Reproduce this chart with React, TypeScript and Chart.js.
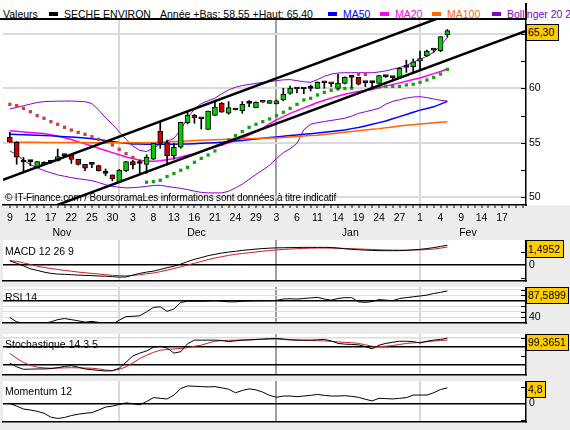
import React, { useEffect, useRef } from "react";
import { Chart, registerables } from "chart.js";

Chart.register(...registerables);

const FONT = "'Liberation Sans', Arial, Helvetica, sans-serif";
const FS = 10.5;

// ---------- axis / calendar data ----------
const dayLabels = ["9", "12", "17", "22", "25", "30", "3", "8", "13", "16", "21", "24", "29", "3", "6", "11", "14", "19", "24", "27", "1", "4", "9", "14", "17"];
const monthLabels = ["Nov", "Dec", "Jan", "Fev"];
const monthLabelAt = [7.6, 27.3, 49.8, 67.0];
const monthStartAt = [16, 39, 60];
const yearStartAt = 39;
const X_MIN = -1;
const X_MAX = 75.5;

// ---------- header data ----------
const stockName = "SECHE ENVIRON";
const yearLow = "58,55";
const yearHigh = "65,40";
const lastClose = "65,30";
const legendNames = ["MA50", "MA20", "MA100", "Bollinger 20 2"];
const legendColors = ["#0000ff", "#ff00ff", "#ff6600", "#8800cc"];

// ---------- price data (one entry per trading day) ----------
const opens = [55.5, 55.05, 53.24, 53.27, 52.72, 53.2, 53.21, 53.33, 53.82, 53.88,
  53.48, 53.02, 53.02, 52.9, 52.2, 52.05, 51.38, 52.44, 53.27, 53.1,
  53.02, 53.49, 56.08, 55.01, 53.82, 54.59, 56.85, 57.52, 57.21, 56.23,
  57.52, 58.62, 57.71, 58.01, 57.95, 58.62, 58.23, 58.72, 58.62, 58.6,
  58.93, 59.54, 59.94, 59.94, 60.0, 60.0, 60.5, 60.5, 60.0, 60.46,
  61.0, 61.0, 60.52, 60.52, 60.46, 61.07, 60.98, 61.0, 61.92, 61.98,
  62.5, 62.99, 63.51, 63.45, 64.89];
const highs = [55.96, 55.1, 53.67, 53.4, 53.3, 53.25, 53.25, 54.43, 53.9, 53.9,
  53.5, 53.02, 53.02, 52.95, 52.6, 52.05, 52.55, 53.3, 53.4, 53.4,
  53.9, 54.95, 56.94, 55.26, 54.95, 56.9, 57.85, 57.6, 57.21, 57.92,
  58.93, 58.7, 58.78, 58.01, 58.78, 58.87, 58.75, 58.9, 58.9, 58.93,
  60.0, 60.2, 59.94, 59.94, 60.3, 60.6, 60.5, 60.5, 61.28, 61.05,
  61.0, 61.0, 60.52, 60.6, 61.2, 61.1, 61.0, 61.9, 62.59, 62.7,
  63.42, 63.5, 63.55, 64.74, 65.4];
const lows = [55.05, 53.03, 52.44, 52.9, 52.72, 52.95, 53.1, 53.33, 53.7, 53.1,
  52.95, 52.44, 52.72, 52.4, 51.97, 51.5, 51.38, 52.35, 52.6, 52.2,
  52.2, 53.45, 54.49, 52.96, 53.49, 54.5, 56.73, 56.79, 56.26, 56.2,
  57.5, 57.8, 57.62, 58.01, 57.71, 58.32, 58.2, 58.7, 58.6, 58.55,
  58.85, 59.45, 59.57, 59.5, 59.75, 60.0, 60.0, 60.15, 59.95, 60.4,
  60.06, 60.3, 60.15, 60.2, 60.4, 61.0, 60.8, 61.0, 61.46, 61.5,
  61.76, 62.9, 63.3, 63.35, 64.7];
const closes = [55.05, 53.67, 53.24, 53.27, 53.27, 53.0, 53.21, 53.73, 53.82, 53.48,
  53.02, 52.66, 53.02, 52.44, 52.2, 51.68, 52.5, 53.27, 53.0, 53.1,
  53.67, 54.95, 54.95, 53.82, 54.59, 56.88, 57.55, 57.31, 57.21, 57.92,
  58.28, 57.8, 58.23, 58.01, 58.53, 58.62, 58.72, 58.87, 58.87, 58.84,
  59.48, 60.03, 59.94, 59.94, 60.0, 60.55, 60.5, 60.4, 60.46, 61.0,
  61.0, 60.37, 60.52, 60.52, 61.16, 61.07, 60.98, 61.83, 61.92, 62.44,
  62.74, 63.42, 63.51, 64.74, 65.3];

const ma20 = [56.1, 56.05, 56.0, 55.95, 55.9, 55.85, 55.75, 55.6, 55.45, 55.3,
  55.1, 54.9, 54.7, 54.5, 54.3, 54.1, 53.9, 53.7, 53.55, 53.4,
  53.3, 53.3, 53.35, 53.45, 53.55, 53.7, 53.85, 54.0, 54.2, 54.4,
  54.6, 54.8, 55.0, 55.2, 55.45, 55.7, 56.0, 56.35, 56.75, 57.1,
  57.4, 57.7, 57.95, 58.2, 58.45, 58.7, 58.9, 59.1, 59.3, 59.45,
  59.6, 59.7, 59.8, 59.9, 60.05, 60.2, 60.35, 60.5, 60.65, 60.8,
  60.95, 61.15, 61.35, 61.55, 61.8];
const ma50 = [55.78, 55.76, 55.74, 55.72, 55.7, 55.67, 55.64, 55.6, 55.56, 55.52,
  55.48, 55.44, 55.38, 55.3, 55.22, 55.12, 55.02, 54.95, 54.9, 54.88,
  54.87, 54.86, 54.86, 54.86, 54.87, 54.88, 54.9, 54.92, 54.95, 54.98,
  55.01, 55.05, 55.1, 55.16, 55.22, 55.28, 55.35, 55.42, 55.48, 55.54,
  55.6, 55.66, 55.72, 55.78, 55.84, 55.9, 55.97, 56.04, 56.11, 56.18,
  56.3, 56.4, 56.55, 56.7, 56.85, 57.0, 57.2, 57.4, 57.6, 57.8,
  58.0, 58.15, 58.3, 58.55, 58.8];
const ma100 = [55.05, 55.05, 55.05, 55.04, 55.04, 55.03, 55.03, 55.03, 55.02, 55.02,
  55.02, 55.02, 55.01, 55.01, 55.01, 55.0, 55.0, 55.0, 55.0, 55.0,
  55.0, 55.02, 55.05, 55.08, 55.11, 55.14, 55.17, 55.2, 55.23, 55.26,
  55.28, 55.3, 55.32, 55.34, 55.36, 55.38, 55.4, 55.42, 55.43, 55.45,
  55.49, 55.53, 55.57, 55.62, 55.66, 55.7, 55.76, 55.83, 55.9, 55.97,
  56.03, 56.1, 56.17, 56.24, 56.3, 56.38, 56.46, 56.54, 56.6, 56.66,
  56.72, 56.78, 56.84, 56.89, 56.94];
const bollUpper = [58.1, 58.25, 58.4, 58.55, 58.7, 58.78, 58.8, 58.82, 58.83, 58.83,
  58.8, 58.77, 58.6, 58.0, 57.3, 56.7, 56.0, 55.3, 54.7, 54.3,
  54.2, 54.5, 54.9, 55.15, 55.4, 56.2, 57.3, 58.1, 58.6, 58.85,
  59.1, 59.5, 59.85, 60.1, 60.25, 60.35, 60.45, 60.55, 60.62, 60.7,
  60.78, 60.8, 60.7, 60.6, 60.55, 60.8, 61.1, 61.3, 61.4, 61.43,
  61.43, 61.43, 61.43, 61.43, 61.5, 61.6, 61.75, 61.9, 62.1, 62.4,
  62.66, 62.95, 63.3, 63.9, 64.68];
const bollLower = [54.25, 53.9, 53.4, 53.0, 52.7, 52.45, 52.25, 52.05, 51.93, 51.8,
  51.7, 51.62, 51.52, 51.35, 51.15, 51.0, 50.92, 50.86, 50.88, 50.93,
  51.0, 51.08, 51.1, 51.0, 50.9, 50.82, 50.7, 50.56, 50.45, 50.4,
  50.4, 50.4, 50.55, 50.86, 51.2, 51.65, 52.1, 52.5, 52.95, 53.55,
  54.1, 54.45, 54.95, 56.2, 56.7, 56.85, 56.95, 57.05, 57.15, 57.25,
  57.45, 57.7, 57.85, 58.0, 58.16, 58.55, 58.8, 58.95, 59.1, 59.2,
  59.23, 59.15, 59.02, 58.9, 58.83];
const sar = [58.53, 58.41, 58.16, 57.85, 57.49, 57.25, 56.94, 56.7, 56.42, 56.17,
  55.96, 55.78, 55.56, 55.32, 55.1, 54.8, 54.4, 54.0, 53.65, 53.32,
  51.38, 51.44, 51.56, 51.9, 52.17, 52.48, 52.75, 53.21, 53.57, 53.88,
  54.25, 54.86, 55.26, 55.66, 56.03, 56.42, 56.7, 56.94, 57.19, 57.49,
  57.8, 58.16, 58.53, 58.93, 59.08, 59.39, 59.63, 59.82, 59.94, 60.0,
  60.0, 61.28, 61.28, 60.06, 60.12, 60.18, 60.18, 60.18, 60.31, 60.37,
  60.55, 60.76, 61.0, 61.31, 61.74];

// trend channel (day index, price)
const channelTopX = [-1, 75.5];
const channelTopY = [51.6, 69.42];
const channelBottomX = [0, 75.5];
const channelBottomY = [47.67, 65.26];

// ---------- indicators ----------
const macd = [0.3, 0.12, -0.08, -0.3, -0.42, -0.55, -0.65, -0.7, -0.72, -0.75,
  -0.78, -0.8, -0.82, -0.85, -0.86, -0.9, -0.93, -0.92, -0.78, -0.65,
  -0.55, -0.48, -0.35, -0.22, -0.1, 0.05, 0.25, 0.42, 0.55, 0.7,
  0.8, 0.9, 0.97, 1.03, 1.1, 1.15, 1.2, 1.24, 1.27, 1.29,
  1.3, 1.31, 1.32, 1.33, 1.33, 1.33, 1.33, 1.32, 1.28, 1.22,
  1.18, 1.15, 1.12, 1.1, 1.08, 1.08, 1.08, 1.08, 1.1, 1.14,
  1.18, 1.24, 1.31, 1.4, 1.4952];
const macdSignal = [0.32, 0.27, 0.15, 0.03, -0.1, -0.2, -0.28, -0.35, -0.42, -0.48,
  -0.55, -0.6, -0.65, -0.7, -0.75, -0.8, -0.82, -0.84, -0.8, -0.75,
  -0.68, -0.62, -0.52, -0.4, -0.28, -0.15, -0.02, 0.12, 0.26, 0.4,
  0.52, 0.62, 0.72, 0.8, 0.86, 0.92, 0.98, 1.04, 1.09, 1.13,
  1.17, 1.2, 1.23, 1.25, 1.27, 1.28, 1.28, 1.27, 1.26, 1.25,
  1.23, 1.21, 1.19, 1.17, 1.15, 1.13, 1.12, 1.12, 1.12, 1.13,
  1.14, 1.16, 1.2, 1.27, 1.36];
const rsi = [40, 32, 30, 29.5, 29.5, 29.5, 32, 36, 38, 36,
  34, 31.5, 33, 31, 28.5, 27.5, 35, 41.5, 42, 43,
  50, 58, 59, 51, 55, 67, 69, 69, 69, 69.5,
  70, 69, 68, 68, 69, 69.5, 70, 70, 70, 70.5,
  73, 73.5, 73, 74, 75, 76, 73, 71, 74, 75.5,
  75.5, 68, 67, 68.5, 72, 71, 70, 74, 75.5, 77,
  78.5, 80, 83, 85, 87.5899];
const stochK = [30, 20, 13, 13.5, 14, 14, 15, 17.5, 21, 23,
  19, 14, 12, 10, 8.5, 9, 16, 33, 50, 58,
  64, 74, 77, 72, 58, 62, 84, 94, 94, 94,
  94, 93, 90, 92, 94, 95, 96, 97, 98, 99,
  97, 95, 94, 94, 94, 95, 96, 92, 85, 83,
  82, 81, 76, 70, 80, 85, 88, 91, 91, 90,
  86, 91, 94, 96, 99.3651];
const stochD = [57, 44, 32, 24, 19, 17, 16, 16.5, 17, 17.5,
  17, 16.5, 16, 14, 11, 9.5, 13, 20, 31, 43,
  52, 60, 66, 68, 69.5, 71, 73, 77, 80, 86,
  91, 92.5, 93.5, 94, 94.5, 94.5, 95.5, 96.5, 97, 97,
  96, 95, 94.5, 93.5, 93, 92.5, 92, 90.5, 89, 88,
  87, 85, 81, 77, 76, 77, 79, 82, 85, 86.5,
  88, 89.5, 91.5, 93, 94.4];
const momentum = [0.0, -0.8, -1.7, -2.0, -2.4, -3.0, -4.2, -4.6, -4.3, -3.7,
  -3.3, -3.0, -2.8, -2.0, -1.1, -0.8, -0.3, 0.2, -0.1, -0.4,
  0.6, 1.8, 1.6, 1.4, 2.6, 4.6, 5.4, 5.3, 5.2, 5.1,
  5.2, 4.8, 4.4, 3.3, 4.0, 4.5, 4.2, 3.5, 2.5, 1.9,
  2.3, 2.3, 2.1, 2.3, 2.5, 2.8, 2.5, 2.3, 2.3, 2.4,
  2.2, 1.9, 1.3, 0.8, 1.6, 1.5, 1.4, 1.6, 1.8, 2.6,
  2.6, 2.6, 3.3, 4.3, 4.8];

// ---------- helpers ----------
const pts = (arr: number[]) => arr.map((v, i) => ({ x: i, y: v }));
const pairs = (xs: number[], ys: number[]) => xs.map((x, i) => ({ x, y: ys[i] }));
const vGridColor = (v: any) =>
  v === yearStartAt ? "#a0a0a0" : monthStartAt.includes(v) ? "#d8d8d8" : "rgba(0,0,0,0)";

const areaBg = {
  id: "areaBg",
  beforeDraw(chart: any, _a: any, opts: any) {
    if (!opts || !opts.color) return;
    const { ctx, chartArea: a } = chart;
    ctx.save();
    ctx.fillStyle = opts.color;
    ctx.fillRect(a.left, a.top, a.right - a.left, a.bottom - a.top);
    ctx.restore();
  },
};

const innerTicks = {
  id: "innerTicks",
  afterDraw(chart: any, _a: any, opts: any) {
    const vals = opts && opts.values;
    if (!vals) return;
    const y = chart.scales.y;
    const { ctx, chartArea: a } = chart;
    ctx.save();
    ctx.strokeStyle = "#000";
    ctx.lineWidth = 1;
    vals.forEach((v: number) => {
      const py = Math.round(y.getPixelForValue(v)) + 0.5;
      ctx.beginPath();
      ctx.moveTo(a.right - 5, py);
      ctx.lineTo(a.right - 1, py);
      ctx.stroke();
    });
    ctx.restore();
  },
};

function lineDs(data: any[], color: string, width: number, order: number) {
  return {
    type: "line",
    data,
    borderColor: color,
    borderWidth: width,
    pointRadius: 0,
    pointHoverRadius: 0,
    fill: false,
    tension: 0,
    order,
  };
}

function mainConfig(): any {
  const bodyColors = opens.map((o, i) => (closes[i] > o ? "#00cc00" : closes[i] < o ? "#cc0000" : "#000000"));
  const sarColors = sar.map((s, i) => (s > closes[i] ? "#c84040" : "#10a010"));
  return {
    type: "line",
    data: {
      datasets: [
        lineDs(pts(ma100), "#ff6600", 1.5, 10),
        lineDs(pts(ma50), "#0000ff", 1.5, 10),
        lineDs(pts(ma20), "#ff00ff", 1.5, 10),
        lineDs(pts(bollUpper), "#8800cc", 1, 10),
        lineDs(pts(bollLower), "#8800cc", 1, 10),
        {
          type: "line",
          data: pts(sar),
          showLine: false,
          pointStyle: "rect",
          pointRadius: 2.3,
          pointHoverRadius: 2.3,
          pointBorderWidth: 0,
          pointBackgroundColor: sarColors,
          order: 9,
        },
        {
          type: "bar",
          data: lows.map((l, i) => ({ x: i, y: [l, highs[i]] })),
          backgroundColor: "#000",
          borderWidth: 0,
          barThickness: 1,
          grouped: false,
          order: 8,
        },
        {
          type: "bar",
          data: opens.map((o, i) => ({ x: i, y: [o, closes[i]] })),
          backgroundColor: bodyColors,
          borderColor: "#000",
          borderWidth: 1,
          borderSkipped: false,
          barThickness: 5,
          minBarLength: 2,
          grouped: false,
          order: 7,
        },
        lineDs(pairs(channelTopX, channelTopY), "#000", 2.5, 6),
        lineDs(pairs(channelBottomX, channelBottomY), "#000", 2.5, 6),
      ],
    },
    options: {
      responsive: false,
      animation: false,
      devicePixelRatio: 1,
      events: [],
      layout: { padding: { left: 3, right: 0, top: 0, bottom: 0 }, autoPadding: false },
      plugins: {
        legend: { display: false },
        tooltip: { enabled: false },
        innerTicks: { values: [50, 52.5, 55, 57.5, 60, 62.5, 65] },
      },
      scales: {
        x: {
          type: "linear",
          min: X_MIN,
          max: X_MAX,
          offset: false,
          position: "bottom",
          weight: 0,
          afterBuildTicks: (s: any) => {
            s.ticks = Array.from({ length: 76 }, (_, i) => ({ value: i }));
          },
          afterFit: (s: any) => {
            s.height = 19;
            s.paddingLeft = 0;
            s.paddingRight = 0;
          },
          grid: {
            offset: false,
            color: (c: any) => vGridColor(c.tick && c.tick.value),
            lineWidth: 2,
            tickColor: "#000",
            tickWidth: 1,
            tickLength: 3,
          },
          border: { display: true, color: "#000", width: 1.5 },
          ticks: {
            autoSkip: false,
            maxRotation: 0,
            minRotation: 0,
            padding: 4,
            color: "#000",
            font: { family: FONT, size: FS },
            callback: (v: any) => {
              const i = Math.round(v);
              return i % 3 === 0 && dayLabels[i / 3] ? dayLabels[i / 3] : "";
            },
          },
        },
        xm: {
          type: "linear",
          min: X_MIN,
          max: X_MAX,
          offset: false,
          position: "bottom",
          weight: 1,
          afterBuildTicks: (s: any) => {
            s.ticks = monthLabelAt.map((v) => ({ value: v }));
          },
          afterFit: (s: any) => {
            s.height = 16;
            s.paddingLeft = 0;
            s.paddingRight = 0;
          },
          grid: { display: false, drawTicks: false },
          border: { display: false },
          ticks: {
            autoSkip: false,
            maxRotation: 0,
            minRotation: 0,
            padding: 3,
            color: "#000",
            font: { family: FONT, size: FS },
            callback: (_v: any, idx: number) => monthLabels[idx],
          },
        },
        y: {
          type: "linear",
          position: "right",
          min: 49.29,
          max: 66.27,
          afterBuildTicks: (s: any) => {
            s.ticks = [50, 55, 60, 65].map((v) => ({ value: v }));
          },
          afterFit: (s: any) => {
            s.width = 44;
            s.paddingTop = 0;
            s.paddingBottom = 0;
          },
          grid: { color: "#dadada", lineWidth: 2, drawTicks: false },
          border: { display: true, color: "#000", width: 1.5 },
          ticks: {
            autoSkip: false,
            padding: 3,
            color: "#000",
            font: { family: FONT, size: FS },
            callback: (v: any) => (v === 65 ? "" : String(v)),
          },
        },
      },
    },
    plugins: [innerTicks],
  };
}

type HLine = { v: number; c: string; w: number };
type YLab = { v: number; t: string };

function panelConfig(datasets: any[], yMin: number, yMax: number, lines: HLine[], labels: YLab[], inner: number[]): any {
  const tickVals = Array.from(new Set([...lines.map((l) => l.v), ...labels.map((l) => l.v)]));
  const lineFor = (v: any) => lines.find((l) => l.v === v);
  return {
    type: "line",
    data: { datasets },
    options: {
      responsive: false,
      animation: false,
      devicePixelRatio: 1,
      events: [],
      layout: { padding: { left: 3, right: 0, top: 0, bottom: 0 }, autoPadding: false },
      plugins: {
        legend: { display: false },
        tooltip: { enabled: false },
        areaBg: { color: "#ffffff" },
        innerTicks: { values: inner },
      },
      scales: {
        x: {
          type: "linear",
          min: X_MIN,
          max: X_MAX,
          offset: false,
          afterBuildTicks: (s: any) => {
            s.ticks = monthStartAt.map((v) => ({ value: v }));
          },
          afterFit: (s: any) => {
            s.height = 1;
            s.paddingLeft = 0;
            s.paddingRight = 0;
          },
          grid: { drawTicks: false, offset: false, color: (c: any) => vGridColor(c.tick && c.tick.value), lineWidth: 2 },
          border: { display: true, color: "#000", width: 1.5 },
          ticks: { display: false },
        },
        y: {
          type: "linear",
          position: "right",
          min: yMin,
          max: yMax,
          afterBuildTicks: (s: any) => {
            s.ticks = tickVals.map((v) => ({ value: v }));
          },
          afterFit: (s: any) => {
            s.width = 44;
            s.paddingTop = 0;
            s.paddingBottom = 0;
          },
          grid: {
            drawTicks: false,
            color: (c: any) => {
              const l = lineFor(c.tick && c.tick.value);
              return l ? l.c : "rgba(0,0,0,0)";
            },
            lineWidth: (c: any) => {
              const l = lineFor(c.tick && c.tick.value);
              return l ? l.w : 1;
            },
          },
          border: { display: true, color: "#000", width: 1.5 },
          ticks: {
            autoSkip: false,
            padding: 3,
            color: "#000",
            font: { family: FONT, size: FS },
            callback: (v: any) => {
              const l = labels.find((x) => x.v === v);
              return l ? l.t : "";
            },
          },
        },
      },
    },
    plugins: [areaBg, innerTicks],
  };
}

const LIGHT = "#dcdcdc";
const RED = "#cc2020";

const txt = (left: number, top: number, extra: any = {}) => ({
  position: "absolute" as const,
  left,
  top,
  fontFamily: FONT,
  fontSize: FS,
  lineHeight: "12px",
  whiteSpace: "nowrap" as const,
  color: "#000",
  ...extra,
});

const box = (left: number, top: number, width: number, height: number) => ({
  position: "absolute" as const,
  left,
  top,
  width,
  height,
  boxSizing: "border-box" as const,
  background: "#ffcc00",
  border: "1px solid #000",
  fontFamily: FONT,
  fontSize: FS,
  lineHeight: `${height - 2}px`,
  paddingLeft: 1,
  color: "#000",
  whiteSpace: "nowrap" as const,
});

const legendX = [328, 380, 432, 492];

export default function App() {
  const mainRef = useRef<HTMLCanvasElement>(null);
  const macdRef = useRef<HTMLCanvasElement>(null);
  const rsiRef = useRef<HTMLCanvasElement>(null);
  const stochRef = useRef<HTMLCanvasElement>(null);
  const momRef = useRef<HTMLCanvasElement>(null);

  useEffect(() => {
    const charts: Chart[] = [];
    charts.push(new Chart(mainRef.current as HTMLCanvasElement, mainConfig()));
    charts.push(
      new Chart(
        macdRef.current as HTMLCanvasElement,
        panelConfig(
          [lineDs(pts(macdSignal), RED, 1, 2), lineDs(pts(macd), "#000", 1, 1)],
          -1.228,
          1.89,
          [{ v: 0, c: "#000", w: 1.5 }],
          [{ v: 0, t: "0" }],
          [1, -1]
        )
      )
    );
    charts.push(
      new Chart(
        rsiRef.current as HTMLCanvasElement,
        panelConfig(
          [lineDs(pts(rsi), "#000", 1, 1)],
          30,
          94.6,
          [
            { v: 40, c: LIGHT, w: 1 },
            { v: 50, c: LIGHT, w: 1 },
            { v: 60, c: LIGHT, w: 1 },
            { v: 70, c: "#000", w: 1.5 },
            { v: 80, c: LIGHT, w: 1 },
            { v: 90, c: LIGHT, w: 1 },
          ],
          [{ v: 40, t: "40" }],
          [40, 50, 60, 80, 90]
        )
      )
    );
    charts.push(
      new Chart(
        stochRef.current as HTMLCanvasElement,
        panelConfig(
          [lineDs(pts(stochD), RED, 1, 2), lineDs(pts(stochK), "#000", 1, 1)],
          -2.8,
          111.1,
          [
            { v: 100, c: LIGHT, w: 1.5 },
            { v: 75, c: "#000", w: 1.5 },
            { v: 25, c: "#000", w: 1.5 },
          ],
          [],
          [100, 50]
        )
      )
    );
    charts.push(
      new Chart(
        momRef.current as HTMLCanvasElement,
        panelConfig(
          [lineDs(pts(momentum), "#000", 1, 1)],
          -5.69,
          6.92,
          [{ v: 0, c: "#000", w: 1.5 }],
          [{ v: 0, t: "0" }],
          [5, -5]
        )
      )
    );
    return () => charts.forEach((c) => c.destroy());
  }, []);

  const cv = (top: number, h: number) => ({ position: "absolute" as const, left: 0, top, width: 570, height: h, display: "block" });

  return (
    <div style={{ position: "fixed", left: 0, top: 0, width: 570, height: 430, background: "#ececec", overflow: "hidden" }}>
      <div style={{ position: "absolute", left: 0, top: 0, width: 570, height: 205, background: "#fff" }} />
      <canvas ref={mainRef} width={570} height={220} style={cv(20, 220)} />
      <canvas ref={macdRef} width={570} height={42} style={cv(240, 42)} />
      <canvas ref={rsiRef} width={570} height={37} style={cv(287, 37)} />
      <canvas ref={stochRef} width={570} height={42} style={cv(334, 42)} />
      <canvas ref={momRef} width={570} height={42} style={cv(381, 42)} />

      {/* header */}
      <div style={{ position: "absolute", left: 0, top: 18, width: 526, height: 2, background: "#000" }} />
      <div style={{ position: "absolute", left: 525, top: 3, width: 1.5, height: 17, background: "#000" }} />
      <div style={txt(3, 8)}>Valeurs</div>
      <div style={{ position: "absolute", left: 49, top: 12, width: 9, height: 4, background: "#000" }} />
      <div style={txt(64, 8)}>{stockName}</div>
      <div style={txt(160, 8)}>{`Année +Bas: ${yearLow} +Haut: ${yearHigh}`}</div>
      {legendNames.map((n, i) => (
        <React.Fragment key={n}>
          <div style={{ position: "absolute", left: legendX[i], top: 12, width: 9, height: 4, background: legendColors[i] }} />
          <div style={txt(legendX[i] + 15, 8, { color: legendColors[i] })}>{n}</div>
        </React.Fragment>
      ))}

      <div style={txt(5, 192, { fontSize: 10, letterSpacing: "-0.15px" })}>
        © IT-Finance.com / BoursoramaLes informations sont données à titre indicatif
      </div>

      {/* indicator titles */}
      <div style={txt(5, 245)}>MACD 12 26 9</div>
      <div style={txt(5, 291)}>RSI 14</div>
      <div style={txt(5, 338)}>Stochastique 14 3 5</div>
      <div style={txt(5, 385)}>Momentum 12</div>

      {/* value boxes */}
      <div style={box(526, 24, 33, 17)}>{lastClose}</div>
      <div style={box(526, 240, 38, 18)}>1,4952</div>
      <div style={box(526, 287, 43, 17)}>87,5899</div>
      <div style={box(526, 334, 43, 17)}>99,3651</div>
      <div style={box(526, 381, 20, 17)}>4,8</div>
    </div>
  );
}
